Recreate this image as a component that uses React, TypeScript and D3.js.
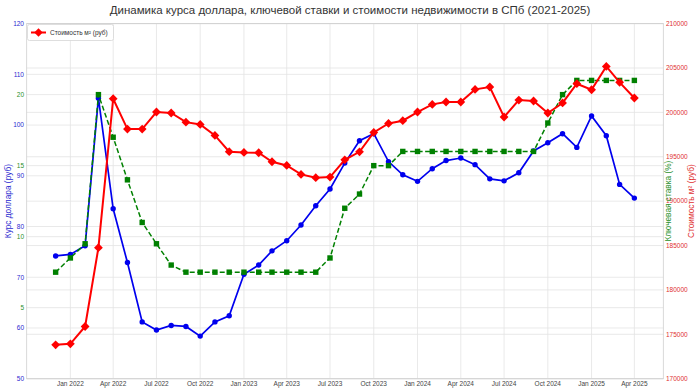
import React from 'react';
import * as d3 from 'd3';

// monthly points, Dec 2021 .. Apr 2025
const months = [
  '2021-12',
  '2022-01', '2022-02', '2022-03', '2022-04', '2022-05', '2022-06', '2022-07', '2022-08', '2022-09', '2022-10', '2022-11', '2022-12',
  '2023-01', '2023-02', '2023-03', '2023-04', '2023-05', '2023-06', '2023-07', '2023-08', '2023-09', '2023-10', '2023-11', '2023-12',
  '2024-01', '2024-02', '2024-03', '2024-04', '2024-05', '2024-06', '2024-07', '2024-08', '2024-09', '2024-10', '2024-11', '2024-12',
  '2025-01', '2025-02', '2025-03', '2025-04',
];

const usdRate = [
  74.2,
  74.5, 76.2, 105.3, 83.5, 72.9, 61.2, 59.6, 60.5, 60.3, 58.4, 61.2, 62.4,
  70.6, 72.4, 75.2, 77.2, 80.3, 84.1, 87.4, 92.5, 96.9, 98.3, 92.8, 90.2,
  88.9, 91.4, 93.0, 93.5, 92.2, 89.4, 89.0, 90.6, 94.9, 96.5, 98.3, 95.6,
  101.8, 97.9, 88.3, 85.6,
];

const keyRate = [
  7.5,
  8.5, 9.5, 20, 17, 14, 11, 9.5, 8, 7.5, 7.5, 7.5, 7.5,
  7.5, 7.5, 7.5, 7.5, 7.5, 7.5, 8.5, 12, 13, 15, 15, 16,
  16, 16, 16, 16, 16, 16, 16, 16, 16, 18, 20, 21,
  21, 21, 21, 21,
];

const pricePerSqm = [
  173820,
  173930, 175880, 184760, 201540, 198120, 198120, 200040, 199930, 198900, 198640, 197400, 195570,
  195490, 195450, 194440, 194020, 193010, 192640, 192710, 194660, 195560, 197740, 198750, 199060,
  200040, 200900, 201170, 201170, 202590, 202860, 199480, 201390, 201280, 199930, 201060, 203230,
  202550, 205180, 203380, 201620,
];

const usdTicks = [50, 60, 70, 80, 90, 100, 110, 120];
const keyTicks = [5, 10, 15, 20];
const keyGrid = [0, 5, 10, 15, 20, 25];
const priceTicks = [170000, 175000, 180000, 185000, 190000, 195000, 200000, 205000, 210000];

const W = 700;
const H = 391;
const L = 26.7, R = 663.3, T = 23.6, B = 378.7;
const FONT = '"Liberation Sans Narrow", "Liberation Sans", Arial, sans-serif';

const parse = d3.utcParse('%Y-%m');
const dates = months.map(m => parse(m) as Date);
const pad = (dates[dates.length - 1].getTime() - dates[0].getTime()) * 0.05;

const x = d3.scaleUtc()
  .domain([new Date(dates[0].getTime() - pad), new Date(dates[dates.length - 1].getTime() + pad)])
  .range([L, R]);
const yUsd = d3.scaleLinear().domain([50, 120]).range([B, T]);
const yKey = d3.scaleLinear().domain([0, 25]).range([B, T]);
const yPrice = d3.scaleLinear().domain([170000, 210000]).range([B, T]);

const xTicks = x.ticks(d3.utcMonth.every(3) as any).filter(d => d.getUTCFullYear() >= 2022);
const fmt = d3.utcFormat('%b %Y');

const diamond = (s: number) => `M0,${-s}L${s},0L0,${s}L${-s},0Z`;

export default function App() {
  const lineUsd = d3.line<number>().x((_, i) => x(dates[i])).y(d => yUsd(d));
  const lineKey = d3.line<number>().x((_, i) => x(dates[i])).y(d => yKey(d));
  const linePrice = d3.line<number>().x((_, i) => x(dates[i])).y(d => yPrice(d));
  const midY = (T + B) / 2;

  return (
    <div style={{ position: 'absolute', left: 0, top: 0 }}>
      <svg width={W} height={H} style={{ display: 'block', fontFamily: FONT }}>
        <rect width={W} height={H} fill="#fff" />
        <text x={W / 2} y={14} textAnchor="middle" fontSize={11.5} fill="#333">
          Динамика курса доллара, ключевой ставки и стоимости недвижимости в СПб (2021-2025)
        </text>

        {/* grid */}
        <g stroke="#e3e3e3" strokeWidth={0.8}>
          {xTicks.map((d, i) => <line key={'gx' + i} x1={x(d)} x2={x(d)} y1={T} y2={B} />)}
          {usdTicks.map((v, i) => <line key={'gu' + i} x1={L} x2={R} y1={yUsd(v)} y2={yUsd(v)} />)}
          {keyGrid.map((v, i) => <line key={'gk' + i} x1={L} x2={R} y1={yKey(v)} y2={yKey(v)} />)}
          {priceTicks.map((v, i) => <line key={'gp' + i} x1={L} x2={R} y1={yPrice(v)} y2={yPrice(v)} />)}
        </g>
        <rect x={L} y={T} width={R - L} height={B - T} fill="none" stroke="#cfcfcf" strokeWidth={0.8} />

        {/* usd */}
        <path d={lineUsd(usdRate) || ''} fill="none" stroke="#0000ee" strokeWidth={1.7} />
        {usdRate.map((v, i) => <circle key={'u' + i} cx={x(dates[i])} cy={yUsd(v)} r={2.7} fill="#0000ee" />)}

        {/* key rate */}
        <path d={lineKey(keyRate) || ''} fill="none" stroke="#008000" strokeWidth={1.5} strokeDasharray="5,2.5" />
        {keyRate.map((v, i) => (
          <rect key={'k' + i} x={x(dates[i]) - 2.7} y={yKey(v) - 2.7} width={5.4} height={5.4} fill="#008000" />
        ))}

        {/* price */}
        <path d={linePrice(pricePerSqm) || ''} fill="none" stroke="#ff0000" strokeWidth={2} />
        {pricePerSqm.map((v, i) => (
          <path key={'p' + i} d={diamond(4.4)} transform={`translate(${x(dates[i])},${yPrice(v)})`} fill="#ff0000" />
        ))}

        {/* x labels */}
        {xTicks.map((d, i) => (
          <text key={'xl' + i} x={x(d)} y={386} textAnchor="middle" fontSize={6.5} fill="#444">{fmt(d)}</text>
        ))}

        {/* left labels */}
        {usdTicks.map((v, i) => (
          <text key={'ul' + i} x={24} y={yUsd(v) + 2.3} textAnchor="end" fontSize={6.5} fill="#2a2ad0">{v}</text>
        ))}
        {keyTicks.map((v, i) => (
          <text key={'kl' + i} x={24} y={yKey(v) + 2.3} textAnchor="end" fontSize={6.5} fill="#2a902a">{v}</text>
        ))}
        <text transform={`translate(11,${midY}) rotate(-90)`} textAnchor="middle" fontSize={8.3} fill="#2a2ad0">
          Курс доллара (руб)
        </text>

        {/* right labels */}
        {priceTicks.map((v, i) => (
          <text key={'pl' + i} x={666} y={yPrice(v) + 2.3} fontSize={6.5} fill="#e03030">{v}</text>
        ))}
        <text transform={`translate(671,${midY}) rotate(-90)`} textAnchor="middle" fontSize={8.3} fill="#2a902a">
          Ключевая ставка (%)
        </text>
        <text transform={`translate(694,${midY}) rotate(-90)`} textAnchor="middle" fontSize={8.3} fill="#e03030">
          Стоимость м² (руб)
        </text>

        {/* legend */}
        <rect x={27.5} y={24.5} width={86} height={16} rx={2} fill="#fff" stroke="#d5d5d5" strokeWidth={0.8} />
        <line x1={31} x2={46} y1={32.5} y2={32.5} stroke="#ff0000" strokeWidth={2} />
        <path d={diamond(4.2)} transform="translate(38.5,32.5)" fill="#ff0000" />
        <text x={50} y={35} fontSize={6.5} fill="#333">Стоимость м² (руб)</text>
      </svg>
    </div>
  );
}
